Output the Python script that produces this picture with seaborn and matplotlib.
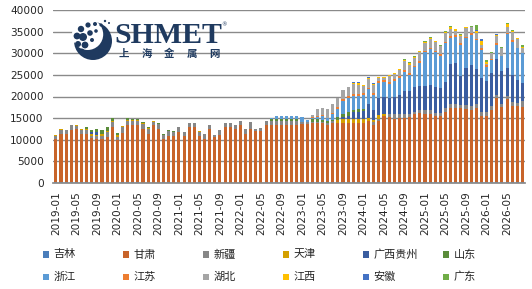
import pandas as pd
import matplotlib
matplotlib.use('Agg')
import matplotlib.pyplot as plt
import seaborn as sns
from matplotlib.patches import Rectangle, Circle

# ----------------------- #
# Data (monthly, 2019-01 .. 2026-08)
# ----------------------- #
months = pd.date_range('2019-01', periods=92, freq='MS').strftime('%Y-%m').tolist()

names = ['吉林', '甘肃', '新疆', '天津', '广西贵州', '山东',
         '浙江', '江苏', '湖北', '江西', '安徽', '广东']
colors = ['#4A7EBB', '#C8642A', '#878787', '#D4A000', '#3A5DA0', '#5A8C3A',
          '#5B9BD5', '#ED7D31', '#A5A5A5', '#FFC000', '#4472C4', '#70AD47']

jilin = ([200, 300, 300, 300, 300, 300, 300, 300, 0, 0, 0, 0, 0, 300, 300, 300, 300,
          0, 0, 0, 0, 300, 300, 0, 0, 0, 0, 0, 300, 300, 0,
          0, 0, 0, 0, 0, 300, 300, 0, 0, 0] + [300] * 51)
gansu = [9900, 11060, 11060, 12000, 12150, 11060, 11060, 10140, 10130, 10130, 10750, 12900, 9970, 11370, 13150, 13000, 13000,
         12450, 11360, 13450, 12450, 9830, 10600, 10900, 11900, 10900, 12900, 12900, 10600, 9830, 12450,
         10600, 11200, 12900, 12900, 12450, 13100, 11100, 12450, 11950, 12050, 13100, 13100, 13100, 13100, 13100, 13100,
         13110, 13340, 13340, 13500, 13500, 13500, 13110, 13650, 13650, 13650, 13650, 13650, 13650, 13650, 14030, 13100, 14000,
         15190, 14880, 14420, 14650, 14810, 14880, 15650, 15810, 15650, 15650, 15190, 15190, 16190, 17120, 17120,
         17120, 16810, 16580, 16960, 15190, 15190, 16580, 19280, 17350, 19040, 17500, 17500, 17350]
xinjiang = [700, 780, 930, 1150, 770, 930, 780, 540, 770, 850, 1150, 1090, 780, 1230, 1000, 1080, 1000,
            1150, 1090, 700, 1250, 970, 1100, 1000, 1000, 930, 940, 940, 1000, 1230, 1000,
            530, 1050, 1000, 1000, 950, 930, 1050, 1650, 500, 650, 950, 1000, 1000, 1000, 1000, 1000,
            1000, 540, 460, 380, 380, 380, 390, 300, 0, 0, 0, 0, 0, 0, 0, 600, 500,
            0, 770, 1230, 1000, 840, 770, 540, 770, 930, 930, 620, 620, 770, 850, 850,
            610, 920, 920, 930, 930, 930, 920, 770, 620, 780, 1000, 700, 1310]
tianjin = ([250, 300, 0, 0, 230, 230, 300, 310, 310, 310, 150, 390, 300, 320, 230, 230, 250,
            300, 250, 150, 0, 0, 0, 0, 0, 0, 0, 0, 160, 0, 0]
           + [0] * 16
           + [0, 0, 0, 0, 0, 0, 0, 0, 620, 920, 770, 770, 770, 770, 620, 500, 850]
           + [390] + [0] * 27)
guangxi = ([0] * 7 + [460, 620] + [0] * 38
           + [0] * 9 + [400, 770, 1770, 1770, 2000, 3320, 2400, 4000]
           + [3930, 3630, 3860, 4400, 5400, 5320, 5780, 5550, 5550, 5780, 6160, 5930, 6170, 9240, 9550]
           + [6710, 8480, 9480, 8090, 7780, 7160, 7710, 8240, 7630, 6390, 6200, 5300, 4080])
shandong = ([0, 0, 0, 0, 0, 0, 460, 540, 690, 920, 850, 620, 470, 0, 240, 230, 200,
             170, 200, 150, 140, 260, 290, 160, 0, 0, 0, 0, 0, 0, 0,
             0, 0, 0, 0, 0, 0, 0, 0, 0, 0, 0, 300, 400, 400, 400, 400,
             460, 0, 0, 540, 540, 390, 600, 320, 610, 680, 1000, 390, 540, 310, 0, 0, 0]
            + [0] * 28)
zhejiang = ([0] * 42 + [250, 690, 690, 690, 690]
            + [620, 1080, 470, 390, 620, 920, 550, 1380, 1850, 3010, 3240, 3230, 3080, 3240, 3390, 3450, 3500]
            + [3620, 3310, 3770, 3850, 4390, 3700, 4470, 5240, 7780, 8320, 7940, 7320, 8860, 6090, 6010]
            + [7160, 6940, 6940, 6780, 6550, 3320, 2930, 3310, 3460, 7940, 7680, 7340, 6940])
jiangsu = ([0] * 50
           + [230, 150, 150, 0, 310, 470, 380, 380, 470, 470, 460, 380, 400, 450]
           + [380, 540, 470, 540, 390, 390, 390, 460, 310, 310, 310, 390, 390, 390, 310]
           + [390, 380, 380, 230, 540, 310, 200, 390, 0, 310, 310, 160, 0])
hubei = ([0] * 50
         + [380, 1620, 1780, 2160, 2010, 2230, 2160, 2160, 2310, 2160, 1700, 1930, 1900, 600]
         + [540, 1390, 1150, 1390, 2080, 1920, 1690, 2160, 1770, 2000, 2000, 1930, 1920, 1690, 1080]
         + [1700, 1930, 1390, 1310, 620, 300, 1340, 1700, 1780, 1390, 2000, 1920, 1310])
jiangxi = ([0] * 58 + [230, 300, 230, 230, 300, 230]
           + [240, 150, 230, 230, 230, 390, 240, 230, 310, 240, 230, 0, 390, 470, 310]
           + [230, 230, 160, 540, 1000, 540, 0, 310, 0, 540, 230, 230, 230])
anhui = ([0] * 58 + [230, 310, 0, 230, 250, 0]
         + [0] * 18 + [200, 310, 0, 0, 230, 0, 0, 0, 0, 0])
guangdong = ([0] * 68
             + [230, 310, 300, 0, 230, 230, 160, 230, 150, 230, 150]
             + [230, 160, 150, 1100, 150, 390, 310, 0, 380, 380, 150, 80, 320])

df = pd.DataFrame(dict(zip(names, [jilin, gansu, xinjiang, tianjin, guangxi, shandong,
                                   zhejiang, jiangsu, hubei, jiangxi, anhui, guangdong])))
df['idx'] = range(len(months))
long_df = df.melt(id_vars='idx', var_name='province', value_name='value')

# ----------------------- #
# Plot
# ----------------------- #
sns.set_theme(style='white')
plt.rcParams['font.family'] = ['DejaVu Sans', 'Noto Sans CJK SC']

W, H = 532, 289
fig = plt.figure(figsize=(W / 100, H / 100), dpi=100)
ax = fig.add_axes([53.3 / W, 1 - 183 / H, (525 - 53.3) / W, (183 - 10) / H])

# stacked monthly bars (seaborn stacks the last hue level at the bottom)
sns.histplot(data=long_df, x='idx', weights='value', hue='province',
             hue_order=names[::-1], palette=dict(zip(names, colors)),
             multiple='stack', discrete=True, shrink=0.6, alpha=1,
             linewidth=0, legend=False, ax=ax)

ax.set_xlim(-0.5, len(months) - 0.5)
ax.set_ylim(0, 40000)
ax.set_yticks(range(0, 40001, 5000))
ax.set_xticks(range(0, len(months), 4))
ax.set_xticklabels(months[::4], rotation=90)
ax.set_xlabel('')
ax.set_ylabel('')
ax.grid(axis='y', color='#8a8a8a', linewidth=1.0)
ax.set_axisbelow(True)
for s in ['left', 'right', 'top']:
    ax.spines[s].set_visible(False)
ax.spines['bottom'].set_color('#8a8a8a')
ax.tick_params(axis='both', length=0, labelsize=7.6, colors='#262626')
ax.tick_params(axis='y', pad=7)
ax.tick_params(axis='x', pad=6)

# legend (two rows of six, Excel style)
for k, (name, col) in enumerate(zip(names, colors)):
    cx = 42.5 + 80 * (k % 6)
    cy = 254.5 + 22.5 * (k // 6)
    fig.add_artist(Rectangle((cx / W, 1 - (cy + 3.3) / H), 6.6 / W, 6.6 / H,
                             transform=fig.transFigure, color=col, lw=0))
    fig.text((cx + 11) / W, 1 - cy / H, name, fontsize=8, va='center', ha='left',
             color='#262626', family=['Noto Sans CJK SC', 'DejaVu Sans'])

# SHMET watermark
navy = '#1F3A5F'
fig.text(114 / W, 1 - 43 / H, 'SHMET', fontsize=21.5, fontweight='bold',
         family='Liberation Serif', color=navy, va='baseline', ha='left')
fig.text(221 / W, 1 - 25 / H, '®', fontsize=4, color=navy, ha='left', va='center')
for j, ch in enumerate('上海金属网'):
    fig.text((124 + 22.5 * j) / W, 1 - 54 / H, ch, fontsize=7.5, fontweight='bold',
             color=navy, ha='center', va='center', family=['Noto Sans CJK SC'])
lax = fig.add_axes([71 / W, 1 - 61 / H, 42 / W, 42 / H])
lax.set_xlim(-1.05, 1.05)
lax.set_ylim(-1.05, 1.05)
lax.set_aspect('equal')
lax.axis('off')
lax.add_patch(Circle((0.05, -0.05), 0.95, color=navy, lw=0))
lax.add_patch(Circle((-0.22, 0.28), 0.78, color='white', lw=0))
for (px, py, r) in [(-0.55, 0.55, 0.16), (-0.2, 0.75, 0.13), (0.15, 0.8, 0.1), (0.45, 0.75, 0.08),
                    (-0.75, 0.2, 0.17), (-0.45, 0.15, 0.2), (-0.1, 0.35, 0.14), (0.2, 0.45, 0.09),
                    (-0.7, -0.2, 0.15), (-0.35, -0.25, 0.17), (0.0, 0.0, 0.1), (0.65, 0.95, 0.06),
                    (-0.5, -0.55, 0.12), (0.85, 0.85, 0.05)]:
    lax.add_patch(Circle((px, py), r, color=navy, lw=0))

fig.savefig('out.png', dpi=100)
